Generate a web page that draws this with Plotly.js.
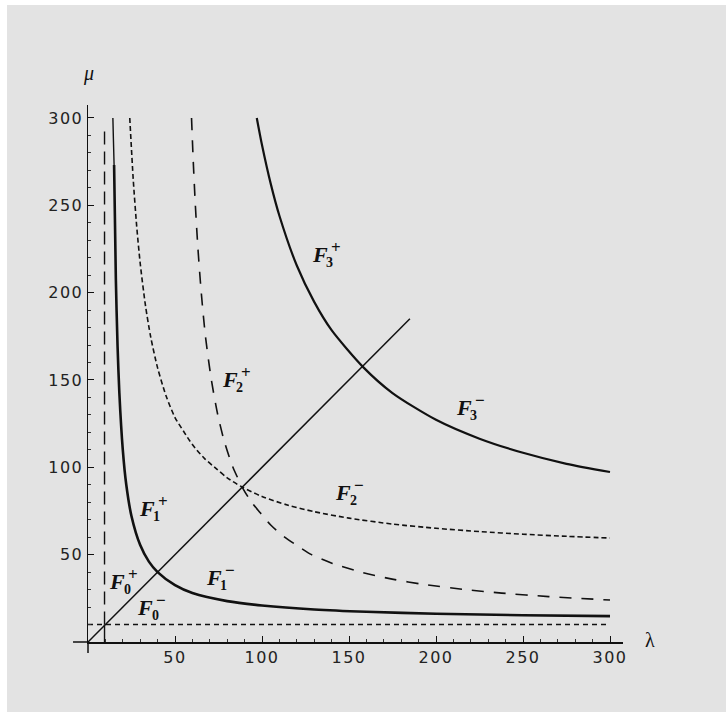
<!DOCTYPE html>
<html>
<head>
<meta charset="utf-8">
<script src="https://cdn.plot.ly/plotly-3.0.1.min.js"></script>
<style>
  html, body { margin: 0; padding: 0; background: #e3e3e3; overflow: hidden; width: 726px; height: 712px; }
  #leftstrip { position: absolute; left: 0; top: 0; width: 7px; height: 712px; background: #ffffff; }
  #topstrip { position: absolute; left: 0; top: 0; width: 726px; height: 5px; background: #ffffff; }
  #chart { position: absolute; left: 7px; top: 5px; width: 719px; height: 707px; }
  .xtick text, .ytick text { letter-spacing: 1.5px; }
</style>
</head>
<body>
<div id="chart"></div>
<div id="leftstrip"></div>
<div id="topstrip"></div>
<script>
// ---- data ----
const f1TopLambda = [14.3, 14.6, 15];
const f1TopMu = [300, 288, 273];
const f1Lambda = [15, 16, 17, 18, 20, 22, 25, 30, 35, 40, 50, 60, 80, 100, 130, 160, 200, 250, 300];
const f1Mu = [273, 208, 169, 143, 110, 90, 72, 55.5, 46, 40, 32.5, 28, 23.4, 20.9, 18.6, 17.3, 16.2, 15.3, 14.8];

const f3Lambda = [97, 100, 105, 110, 120, 130, 140, 158, 175, 200, 225, 250, 275, 300];
const f3Mu = [300, 284.5, 262.4, 244, 215.5, 194.7, 178.5, 157.5, 142.5, 127.2, 116.4, 108.3, 102, 97.3];

const f2ShortLambda = [24, 26, 28, 30, 33, 36, 40, 45, 50, 55, 60, 67, 74, 80, 88, 100, 115, 130, 150, 175, 200, 225, 250, 275, 300];
const f2ShortMu = [300, 264.7, 237.8, 216.8, 192.8, 174.8, 156.9, 140.5, 128.5, 120.5, 113, 105, 99, 94, 89, 83.3, 78.3, 74.6, 70.9, 67.5, 65.1, 63.2, 61.7, 60.5, 59.5];

const f2LongLambda = [59.5, 60.5, 61.7, 63.2, 65.1, 67.5, 70.9, 74.6, 78.3, 83.3, 89, 94, 99, 105, 113, 120.5, 128.5, 140.5, 156.9, 174.8, 192.8, 216.8, 237.8, 264.7, 300];
const f2LongMu = [300, 275, 250, 225, 200, 175, 150, 130, 115, 100, 88, 80, 74, 67, 60, 55, 50, 45, 40, 36, 33, 30, 28, 26, 24];

const diagLambda = [0, 185];
const diagMu = [0, 185];

const f0VertLambda = [9.5, 9.5];
const f0VertMu = [10, 293];
const f0StubLambda = [9.5, 9.5];
const f0StubMu = [0, 10];
const f0HorizLambda = [0, 300];
const f0HorizMu = [10, 10];

const labelLambda = [16.7, 32.8, 33.9, 72.2, 81.6, 146.6, 133.3, 216];
const labelMu = [34.4, 20, 76.7, 37.2, 150.4, 85.3, 221.6, 134.5];
const labelSub = ['0', '0', '1', '1', '2', '2', '3', '3'];
const labelSup = ['+', '\u2212', '+', '\u2212', '+', '\u2212', '+', '\u2212'];

const tickValues = [50, 100, 150, 200, 250, 300];
const tickLabels = ['50', '100', '150', '200', '250', '300'];

// ---- traces ----
function line(x, y, width, dash) {
  return {
    type: 'scatter', mode: 'lines', x: x, y: y, cliponaxis: false,
    hoverinfo: 'skip', showlegend: false,
    line: { color: '#111111', width: width, dash: dash || 'solid', shape: 'spline', smoothing: 0.7 }
  };
}

const traces = [
  line(f0HorizLambda, f0HorizMu, 1.4, '5px,4px'),
  line(f0VertLambda, f0VertMu, 1.4, '13px,7px'),
  line(f0StubLambda, f0StubMu, 1.4),
  line(diagLambda, diagMu, 1.5),
  line(f1TopLambda, f1TopMu, 1.4),
  line(f1Lambda, f1Mu, 2.6),
  line(f2ShortLambda, f2ShortMu, 1.6, '5px,3px'),
  line(f2LongLambda, f2LongMu, 1.6, '12px,10px'),
  line(f3Lambda, f3Mu, 2.2)
];

// ---- labels ----
const annotations = [];
const labelFont = { family: 'Liberation Serif, Times New Roman, serif', color: '#111111' };
for (let i = 0; i < labelLambda.length; i++) {
  annotations.push({
    x: labelLambda[i], y: labelMu[i], xref: 'x', yref: 'y', showarrow: false,
    text: '<b><i>F</i></b>', xanchor: 'center', yanchor: 'middle',
    font: Object.assign({ size: 22 }, labelFont)
  });
  annotations.push({
    x: labelLambda[i], y: labelMu[i], xref: 'x', yref: 'y', showarrow: false,
    text: '<b>' + labelSup[i] + '</b>', xanchor: 'center', yanchor: 'middle',
    xshift: 16, yshift: 7,
    font: Object.assign({ size: 17 }, labelFont)
  });
  annotations.push({
    x: labelLambda[i], y: labelMu[i], xref: 'x', yref: 'y', showarrow: false,
    text: '<b>' + labelSub[i] + '</b>', xanchor: 'center', yanchor: 'middle',
    xshift: 10, yshift: -8,
    font: Object.assign({ size: 14 }, labelFont)
  });
}
annotations.push({
  x: 1.0505, y: 0.004, xref: 'paper', yref: 'paper', showarrow: false,
  text: '\u03bb', xanchor: 'center', yanchor: 'middle',
  font: { family: 'Liberation Serif, serif', size: 20, color: '#111111' }
});
annotations.push({
  x: 0.0, y: 1.058, xref: 'paper', yref: 'paper', showarrow: false,
  text: '<i>\u03bc</i>', xanchor: 'center', yanchor: 'middle',
  font: { family: 'Liberation Serif, serif', size: 20, color: '#111111' }
});

const axisCommon = {
  showgrid: false, zeroline: false, showline: true,
  linecolor: '#111111', linewidth: 1.5,
  ticks: 'inside', ticklen: 6, tickwidth: 1, tickcolor: '#111111',
  tickvals: tickValues, ticktext: tickLabels,
  minor: { ticks: 'inside', ticklen: 3, tickwidth: 1, tickcolor: '#333333', dtick: 10, tick0: 0 },
  tickfont: { family: 'DejaVu Sans, sans-serif', size: 16, color: '#222222' }
};

const layout = {
  width: 719, height: 707,
  margin: { l: 81, r: 103, t: 100, b: 70 },
  paper_bgcolor: '#e3e3e3', plot_bgcolor: '#e3e3e3',
  showlegend: false,
  xaxis: Object.assign({}, axisCommon, { range: [0, 307.47] }),
  yaxis: Object.assign({}, axisCommon, { range: [0, 307.4] }),
  shapes: [
    { type: 'line', xref: 'paper', yref: 'paper', x0: -0.028, y0: 0, x1: 0, y1: 0,
      line: { color: '#111111', width: 1.5 } },
    { type: 'line', xref: 'paper', yref: 'paper', x0: 0, y0: -0.0205, x1: 0, y1: 0,
      line: { color: '#111111', width: 1.5 } }
  ],
  annotations: annotations
};

Plotly.newPlot('chart', traces, layout, { staticPlot: true, displayModeBar: false });
</script>
</body>
</html>
